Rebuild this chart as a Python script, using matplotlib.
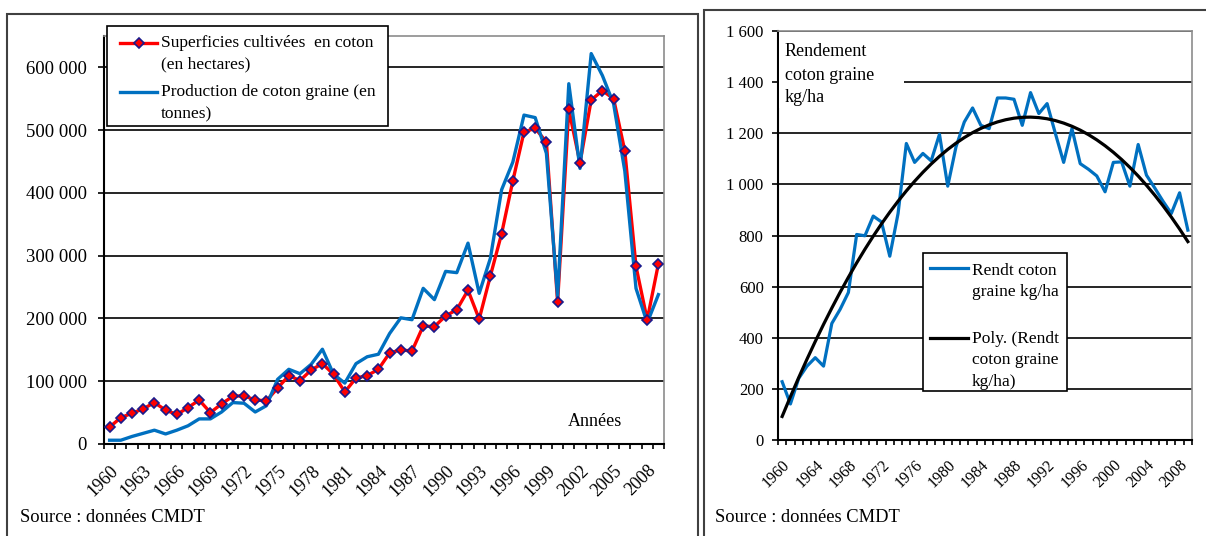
import matplotlib
matplotlib.use('Agg')
import matplotlib.pyplot as plt
import numpy as np
from matplotlib.patches import Rectangle
from matplotlib.lines import Line2D

plt.rcParams['font.family'] = ['Liberation Serif', 'DejaVu Serif']

years = list(range(1960, 2010))

# superficies cultivees (ha)
superficie = [27, 42, 49, 56, 66, 54, 47, 58, 70, 50,
              64, 76, 77, 70, 69, 89, 109, 101, 118, 128,
              111, 83, 105, 109, 119, 145, 150, 148, 188, 187,
              204, 214, 245, 199, 268, 335, 419, 497, 503, 481,
              226, 533, 448, 548, 563, 550, 467, 283, 198, 287]
superficie = [v * 1000 for v in superficie]

# production coton graine (t)
production = [6, 6, 12, 17, 22, 16, 22, 29, 40, 40,
              51, 66, 65, 51, 61, 103, 119, 112, 127, 151,
              111, 97, 128, 139, 143, 176, 201, 198, 248, 230,
              275, 273, 320, 240, 296, 405, 449, 524, 520, 463,
              235, 574, 439, 622, 587, 542, 435, 248, 193, 238]
production = [v * 1000 for v in production]

# rendement kg/ha
rendement = [228, 141, 241, 289, 322, 289, 456, 511, 577, 804,
             799, 876, 853, 719, 886, 1160, 1086, 1121, 1092, 1196,
             993, 1147, 1244, 1299, 1231, 1218, 1338, 1338, 1333, 1231,
             1359, 1277, 1316, 1199, 1086, 1218, 1081, 1059, 1033, 971,
             1086, 1088, 993, 1156, 1036, 986, 934, 886, 967, 821]

W, H = 1206, 536
fig = plt.figure(figsize=(W / 100, H / 100), dpi=100)


def fx(x):
    return x / W


def fy(y):
    return 1 - y / H


def box(x0, y0, x1, y1, **kw):
    fig.patches.append(Rectangle((fx(x0), fy(y1)), (x1 - x0) / W, (y1 - y0) / H,
                                 transform=fig.transFigure, **kw))


def hline(x0, x1, y, **kw):
    fig.lines.append(Line2D([fx(x0), fx(x1)], [fy(y), fy(y)],
                            transform=fig.transFigure, **kw))


def ftext(x, y, s, size, **kw):
    fig.text(fx(x), fy(y), s, fontsize=size, va='center', ha='left', zorder=6, **kw)


def style_axes(ax):
    for s in ['left', 'bottom']:
        ax.spines[s].set_color('black')
        ax.spines[s].set_linewidth(1.5)
    for s in ['top', 'right']:
        ax.spines[s].set_color('#8c8c8c')
        ax.spines[s].set_linewidth(1.2)
    ax.yaxis.grid(True, color='black', lw=1.2)
    ax.set_axisbelow(True)


def sp(v):
    return f"{v:,.0f}".replace(",", " ")


# outer frames
box(7, 14, 698, 560, facecolor='none', edgecolor='#404040', lw=1.5, zorder=0)
box(704, 10, 1230, 560, facecolor='none', edgecolor='#404040', lw=1.5, zorder=0)

idx = np.arange(len(years))

# ---------------- left chart ----------------
ax1 = fig.add_axes([fx(104), fy(444), (664 - 104) / W, (444 - 36) / H])
style_axes(ax1)
ax1.plot(idx, superficie, color='#FF0000', lw=2.4, zorder=2)
ax1.plot(idx, production, color='#0070C0', lw=2.4, zorder=3)
ax1.plot(idx, superficie, ls='none', marker='D', ms=5.5, mfc='#FF0000',
         mec='#1a1a8c', mew=1.2, zorder=4)
ax1.set_xlim(-0.5, len(years) - 0.5)
ax1.set_ylim(0, 650000)
yt = list(range(0, 600001, 100000))
ax1.set_yticks(yt)
ax1.set_yticklabels([sp(v) for v in yt], fontsize=13.5)
ax1.tick_params(axis='y', length=4.3, width=1.2, pad=8)
ax1.set_xticks(idx[::3])
ax1.set_xticklabels([str(y) for y in years[::3]], rotation=45, ha='right', va='top',
                    rotation_mode='anchor', fontsize=13)
ax1.tick_params(axis='x', which='major', length=0, pad=13)
ax1.set_xticks(np.arange(-0.5, len(years)), minor=True)
ax1.tick_params(axis='x', which='minor', length=3.6, width=1.2)

ftext(568, 422, 'Années', 13)
ftext(20, 518, 'Source : données CMDT', 13.3)

# left legend
box(107, 26, 388, 126, facecolor='white', edgecolor='black', lw=1.2, zorder=5)
hline(120, 157, 43, color='#FF0000', lw=2.4, zorder=6)
fig.lines.append(Line2D([fx(138.5)], [fy(43)], transform=fig.transFigure, ls='none',
                        marker='D', ms=5.5, mfc='#FF0000', mec='#1a1a8c', mew=1.2, zorder=7))
hline(120, 157, 92, color='#0070C0', lw=2.4, zorder=6)
for s, y in [('Superficies cultivées  en coton', 43), ('(en hectares)', 64),
             ('Production de coton graine (en', 92), ('tonnes)', 114)]:
    ftext(161, y, s, 12.5)

# ---------------- right chart ----------------
ax2 = fig.add_axes([fx(778), fy(440), (1192 - 778) / W, (440 - 31) / H])
style_axes(ax2)
coef = np.polyfit(idx, rendement, 2)
trend = np.polyval(coef, idx)
ax2.plot(idx, rendement, color='#0070C0', lw=2.3, zorder=3)
ax2.plot(idx, trend, color='black', lw=2.3, zorder=4)
ax2.set_xlim(-0.5, len(years) - 0.5)
ax2.set_ylim(0, 1600)
yt2 = list(range(0, 1601, 200))
ax2.set_yticks(yt2)
ax2.set_yticklabels([sp(v) for v in yt2], fontsize=12)
ax2.tick_params(axis='y', length=4.3, width=1.2, pad=6)
ax2.set_xticks(idx[::4])
ax2.set_xticklabels([str(y) for y in years[::4]], rotation=45, ha='right', va='top',
                    rotation_mode='anchor', fontsize=11.5)
ax2.tick_params(axis='x', which='major', length=0, pad=12)
ax2.set_xticks(np.arange(-0.5, len(years)), minor=True)
ax2.tick_params(axis='x', which='minor', length=3.6, width=1.2)

box(779, 33, 904, 108, facecolor='white', edgecolor='none', zorder=5)
for s, y in [('Rendement', 52), ('coton graine', 75), ('kg/ha', 97)]:
    ftext(785, y, s, 13)

ftext(715, 518, 'Source : données CMDT', 13.3)

# right legend
box(922.7, 253.3, 1067.3, 391, facecolor='white', edgecolor='black', lw=1.2, zorder=5)
hline(930, 968, 268.3, color='#0070C0', lw=2.3, zorder=6)
hline(930, 968, 337.7, color='black', lw=2.3, zorder=6)
for s, y in [('Rendt coton', 271), ('graine kg/ha', 292), ('Poly. (Rendt', 339),
             ('coton graine', 360), ('kg/ha)', 382)]:
    ftext(972, y, s, 12.5)

fig.savefig('out.png', dpi=100)
